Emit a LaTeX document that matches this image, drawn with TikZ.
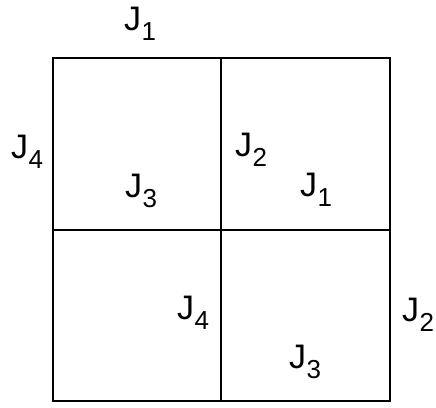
\documentclass[tikz,border=0pt]{standalone}
\usepackage{fontspec}
\setmainfont{Liberation Sans}
\newcommand{\jsub}[1]{J\kern0.5pt\raisebox{-0.3em}{\fontsize{26}{30}\selectfont #1}}
\begin{document}
\begin{tikzpicture}[x=1pt,y=-1pt,
  lbl/.style={inner sep=0pt, font=\fontsize{34}{38}\selectfont},
  edge/.style={line width=1.6pt, black}]
\useasboundingbox (0,0) rectangle (436,407);
\coordinate (tl) at (53,58);
\coordinate (tr) at (390,58);
\coordinate (bl) at (53,401);
\coordinate (br) at (390,401);
\coordinate (tm) at (221,58);
\coordinate (bm) at (221,401);
\coordinate (lm) at (53,230);
\coordinate (rm) at (390,230);
\draw[edge] (tl) -- (tr) -- (br) -- (bl) -- cycle;
\draw[edge] (tm) -- (bm);
\draw[edge] (lm) -- (rm);
\node[lbl] (a) at (140,24) {\jsub{1}};
\node[lbl] (b) at (27,152) {\jsub{4}};
\node[lbl] (c) at (251,150) {\jsub{2}};
\node[lbl] (d) at (141,191) {\jsub{3}};
\node[lbl] (e) at (316,190) {\jsub{1}};
\node[lbl] (f) at (193,313) {\jsub{4}};
\node[lbl] (g) at (418,315) {\jsub{2}};
\node[lbl] (h) at (305,362) {\jsub{3}};
\end{tikzpicture}
\end{document}
